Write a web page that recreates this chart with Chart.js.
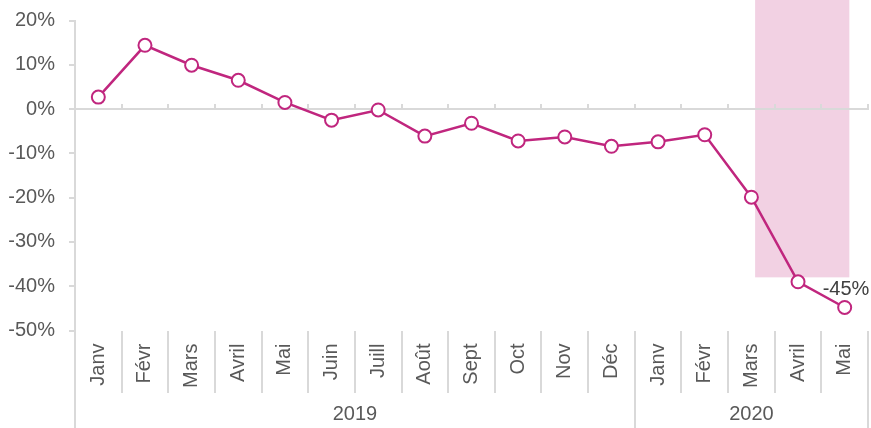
<!DOCTYPE html>
<html>
<head>
<meta charset="utf-8">
<script src="https://cdn.jsdelivr.net/npm/chart.js@4/dist/chart.umd.min.js"></script>
<style>
  html, body { margin: 0; padding: 0; background: #fff; }
  canvas { display: block; }
</style>
</head>
<body>
<canvas id="chart" width="871" height="428"></canvas>
<script>
// mois (2019 puis 2020)
const months = ['Janv', 'Févr', 'Mars', 'Avril', 'Mai', 'Juin', 'Juill', 'Août', 'Sept', 'Oct', 'Nov', 'Déc',
                'Janv', 'Févr', 'Mars', 'Avril', 'Mai'];
const values = [2.7, 14.4, 9.9, 6.5, 1.5, -2.5, -0.2, -6.1, -3.2, -7.2, -6.3, -8.4,
                -7.4, -5.8, -19.9, -39.0, -44.8];
const years = ['2019', '2020'];
const monthsPerYear = [12, 5];
const yTicks = [20, 10, 0, -10, -20, -30, -40, -50];
const lastLabel = '-45%';
// zone surlignée (en index de mois / valeur)
const bandFrom = 14.08;
const bandTo = 16.1;
const bandBottom = -38;

const LINE = '#c0267e';
const GRID = '#d9d9d9';
const TEXT = '#595959';
const FONT = { family: '"Liberation Sans", Arial, sans-serif', size: 20 };

// limites et centres des groupes d'années
const yearEdges = [-0.5];
monthsPerYear.forEach(n => yearEdges.push(yearEdges[yearEdges.length - 1] + n));
const yearCenters = years.map((_, i) => (yearEdges[i] + yearEdges[i + 1]) / 2);

const bandPlugin = {
  id: 'band',
  beforeDraw(chart) {
    const { ctx, scales } = chart;
    const x1 = scales.x.getPixelForValue(bandFrom);
    const x2 = scales.x.getPixelForValue(bandTo);
    const yb = scales.y.getPixelForValue(bandBottom);
    ctx.save();
    ctx.fillStyle = '#f2d1e3';
    ctx.fillRect(x1, 0, x2 - x1, yb);
    ctx.restore();
  }
};

const lastLabelPlugin = {
  id: 'lastLabel',
  afterDatasetsDraw(chart) {
    const meta = chart.getDatasetMeta(0);
    const pt = meta.data[meta.data.length - 1];
    const { ctx } = chart;
    ctx.save();
    ctx.font = `${FONT.size}px ${FONT.family}`;
    ctx.fillStyle = '#404040';
    ctx.textAlign = 'left';
    ctx.textBaseline = 'middle';
    ctx.fillText(lastLabel, pt.x - 22, pt.y - 18);
    ctx.restore();
  }
};

const fixedTicks = list => scale => { scale.ticks = list.map(v => ({ value: v })); };
// pas de marge automatique : la zone du graphique est fixée par layout.padding
const noPad = s => { s.paddingLeft = 0; s.paddingRight = 0; s.paddingTop = 0; s.paddingBottom = 0; };

new Chart(document.getElementById('chart').getContext('2d'), {
  type: 'line',
  data: {
    labels: months,
    datasets: [{
      data: values,
      borderColor: LINE,
      borderWidth: 2.5,
      pointRadius: 6.5,
      pointBorderWidth: 2,
      pointBackgroundColor: '#ffffff',
      pointBorderColor: LINE,
      tension: 0,
      clip: false,
      xAxisID: 'x',
      yAxisID: 'y'
    }]
  },
  options: {
    responsive: false,
    animation: false,
    layout: { autoPadding: false, padding: { top: 20.5, bottom: 97.5, left: 0, right: 3 } },
    plugins: { legend: { display: false }, tooltip: { enabled: false } },
    scales: {
      y: {
        min: -50,
        max: 20,
        afterFit: s => { s.width = 75; noPad(s); },
        afterBuildTicks: fixedTicks(yTicks),
        ticks: { font: FONT, color: TEXT, padding: 14, callback: v => v + '%' },
        grid: { drawOnChartArea: false, tickLength: 6, color: GRID, lineWidth: 2 },
        border: { color: GRID, width: 2 }
      },
      // axe à 0 % avec petites graduations vers le haut
      x: {
        axis: 'x',
        type: 'category',
        position: { y: 0 },
        offset: true,
        afterFit: noPad,
        ticks: { display: false },
        grid: { offset: true, drawOnChartArea: false, tickLength: -6, color: GRID, lineWidth: 2 },
        border: { color: GRID, width: 2 }
      },
      // libellés des mois en bas
      xMonths: {
        axis: 'x',
        type: 'category',
        position: { y: -50 },
        offset: true,
        afterFit: noPad,
        ticks: { font: FONT, color: TEXT, minRotation: 90, maxRotation: 90, padding: -49, autoSkip: false },
        grid: { offset: true, drawOnChartArea: false, tickLength: 62, color: GRID, lineWidth: 2 },
        border: { display: false }
      },
      // séparateurs des années
      xYearLines: {
        axis: 'x',
        type: 'linear',
        position: { y: -50 },
        min: -0.5,
        max: 16.5,
        afterFit: noPad,
        afterBuildTicks: fixedTicks(yearEdges),
        ticks: { display: false },
        grid: { drawOnChartArea: false, tickLength: 97, color: GRID, lineWidth: 2 },
        border: { display: false }
      },
      // libellés des années
      xYears: {
        axis: 'x',
        type: 'linear',
        position: { y: -50 },
        min: -0.5,
        max: 16.5,
        afterFit: noPad,
        afterBuildTicks: fixedTicks(yearCenters),
        ticks: { font: FONT, color: TEXT, padding: 72, maxRotation: 0, callback: (v, i) => years[i] },
        grid: { display: false, drawTicks: false },
        border: { display: false }
      }
    }
  },
  plugins: [bandPlugin, lastLabelPlugin]
});
</script>
</body>
</html>
